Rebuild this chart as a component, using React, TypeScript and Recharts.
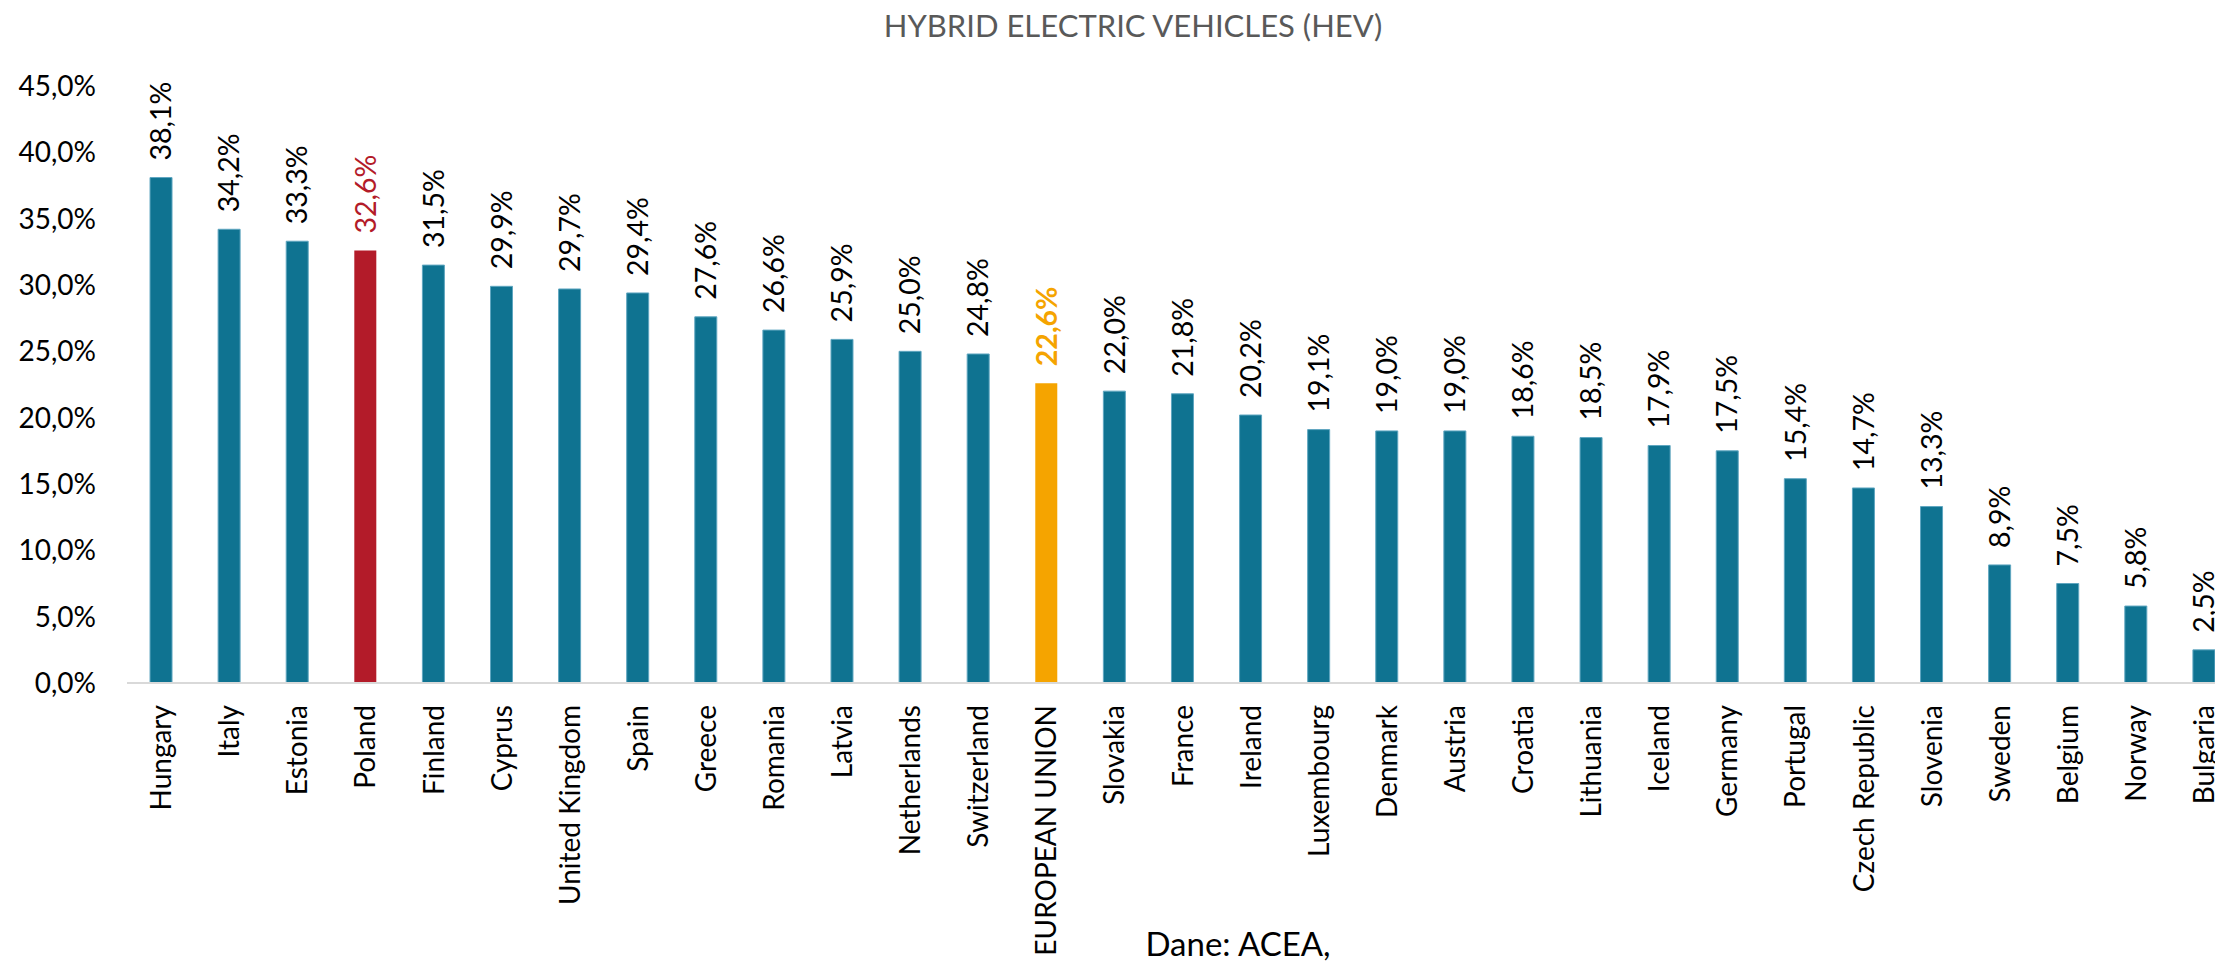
import React from 'react';
import { BarChart, Bar, XAxis, YAxis, Cell, LabelList } from 'recharts';

const countries = [
  'Hungary', 'Italy', 'Estonia', 'Poland', 'Finland', 'Cyprus', 'United Kingdom', 'Spain',
  'Greece', 'Romania', 'Latvia', 'Netherlands', 'Switzerland', 'EUROPEAN UNION', 'Slovakia',
  'France', 'Ireland', 'Luxembourg', 'Denmark', 'Austria', 'Croatia', 'Lithuania', 'Iceland',
  'Germany', 'Portugal', 'Czech Republic', 'Slovenia', 'Sweden', 'Belgium', 'Norway', 'Bulgaria',
];

const hevShare = [
  38.1, 34.2, 33.3, 32.6, 31.5, 29.9, 29.7, 29.4,
  27.6, 26.6, 25.9, 25.0, 24.8, 22.6, 22.0,
  21.8, 20.2, 19.1, 19.0, 19.0, 18.6, 18.5, 17.9,
  17.5, 15.4, 14.7, 13.3, 8.9, 7.5, 5.8, 2.5,
];

const yTicks = [0, 5, 10, 15, 20, 25, 30, 35, 40, 45];

const TITLE = 'HYBRID ELECTRIC VEHICLES (HEV)';
const SOURCE = 'Dane: ACEA,';

const TEAL = '#0F7391';
const RED = '#B31B29';
const ORANGE = '#F5A400';
const FONT = 'Lato, "Open Sans", sans-serif';

const data = countries.map((name, i) => ({ name, value: hevShare[i] }));

const barColor = (name: string) =>
  name === 'Poland' ? RED : name === 'EUROPEAN UNION' ? ORANGE : TEAL;
const labelColor = (name: string) =>
  name === 'Poland' ? RED : name === 'EUROPEAN UNION' ? ORANGE : '#000000';

const fmt = (v: number) => v.toFixed(1).replace('.', ',') + '%';

const CategoryTick = (props: any) => {
  const { x, y, payload } = props;
  return (
    <text
      x={x}
      y={y}
      transform={`rotate(-90, ${x}, ${y})`}
      textAnchor="end"
      dy="0.36em"
      fill="#000000"
      fontSize={28}
      fontFamily={FONT}
    >
      {payload.value}
    </text>
  );
};

const ValueLabel = (props: any) => {
  const { x, y, width, value, index } = props;
  const name = countries[index];
  const cx = x + width / 2;
  const cy = y - 17;
  const isEU = name === 'EUROPEAN UNION';
  return (
    <text
      x={cx}
      y={cy}
      transform={`rotate(-90, ${cx}, ${cy})`}
      textAnchor="start"
      dy="0.36em"
      fill={labelColor(name)}
      fontSize={28.5}
      fontWeight={isEU ? 700 : 400}
      fontFamily={FONT}
    >
      {fmt(value)}
    </text>
  );
};

export default function App() {
  return (
    <div
      style={{
        position: 'fixed',
        top: 0,
        left: 0,
        width: 2215,
        height: 969,
        overflow: 'hidden',
        background: '#ffffff',
        fontFamily: FONT,
      }}
    >
      <div
        style={{
          position: 'absolute',
          left: 1133 - 600,
          width: 1200,
          top: 9,
          textAlign: 'center',
          fontSize: 31,
          lineHeight: '32px',
          color: '#595959',
        }}
      >
        {TITLE}
      </div>
      <BarChart
        width={2250}
        height={969}
        data={data}
        margin={{ top: 86, right: 12, bottom: 0, left: 0 }}
        barCategoryGap="33.8%"
      >
        <YAxis
          domain={[0, 45]}
          ticks={yTicks}
          width={127}
          axisLine={false}
          tickLine={false}
          tickSize={0}
          tickMargin={31}
          interval={0}
          tickFormatter={(v: number) => fmt(v)}
          tick={{ fill: '#000000', fontSize: 28, fontFamily: FONT }}
        />
        <XAxis
          dataKey="name"
          interval={0}
          height={286}
          tickLine={false}
          tickSize={0}
          tickMargin={22}
          axisLine={{ stroke: '#D9D9D9', strokeWidth: 2 }}
          tick={<CategoryTick />}
        />
        <Bar dataKey="value" isAnimationActive={false}>
          {data.map((d) => (
            <Cell
              key={d.name}
              fill={barColor(d.name)}
              stroke={d.name === 'Poland' || d.name === 'EUROPEAN UNION' ? 'none' : '#5FA6C0'}
              strokeWidth={1}
            />
          ))}
          <LabelList dataKey="value" content={<ValueLabel />} />
        </Bar>
      </BarChart>
      <div
        style={{
          position: 'absolute',
          left: 1238 - 300,
          width: 600,
          top: 925,
          textAlign: 'center',
          fontSize: 33,
          lineHeight: '36px',
          color: '#000000',
        }}
      >
        {SOURCE}
      </div>
    </div>
  );
}
